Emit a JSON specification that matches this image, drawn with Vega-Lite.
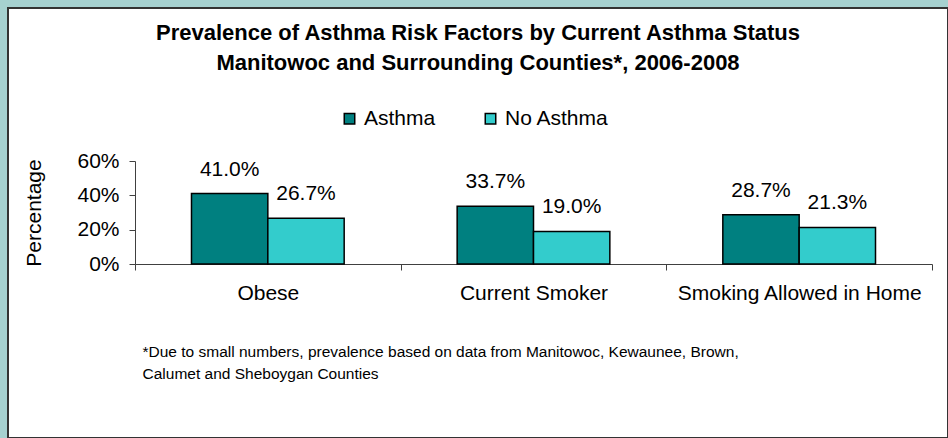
{
  "$schema": "https://vega.github.io/schema/vega-lite/v6.json",
  "width": 940,
  "height": 430,
  "autosize": {"type": "none"},
  "padding": {"left": 8, "top": 8, "right": 0, "bottom": 0},
  "background": "#A6D1D0",
  "config": {
    "view": {"fill": "white", "stroke": "#333333", "strokeWidth": 2},
    "font": "Liberation Sans"
  },
  "title": {
    "text": ["Prevalence of Asthma Risk Factors by Current Asthma Status", "Manitowoc and Surrounding Counties*, 2006-2008"],
    "anchor": "middle",
    "frame": "group",
    "offset": -67,
    "lineHeight": 30,
    "fontSize": 22,
    "fontWeight": "bold",
    "font": "Liberation Sans",
    "color": "black"
  },
  "data": {
    "values": [
      {"factor": "Obese", "status": "Asthma", "value": 0.41},
      {"factor": "Obese", "status": "No Asthma", "value": 0.267},
      {"factor": "Current Smoker", "status": "Asthma", "value": 0.337},
      {"factor": "Current Smoker", "status": "No Asthma", "value": 0.19},
      {"factor": "Smoking Allowed in Home", "status": "Asthma", "value": 0.287},
      {"factor": "Smoking Allowed in Home", "status": "No Asthma", "value": 0.213}
    ]
  },
  "encoding": {
    "x": {
      "field": "factor",
      "type": "nominal",
      "sort": ["Obese", "Current Smoker", "Smoking Allowed in Home"],
      "scale": {"range": [127, 924], "paddingInner": 0, "paddingOuter": 0},
      "axis": {
        "orient": "bottom",
        "offset": -174,
        "tickBand": "extent",
        "tickSize": 6,
        "tickColor": "#404040",
        "domainColor": "#404040",
        "labelPadding": 12,
        "labelFontSize": 21,
        "labelLimit": 0,
        "labelColor": "black",
        "labelAngle": 0,
        "title": ["*Due to small numbers, prevalence based on data from Manitowoc, Kewaunee, Brown,", " Calumet and Sheboygan Counties"],
        "titleFontSize": 15.5,
        "titleFontWeight": "normal",
        "titleColor": "black",
        "titleX": 134,
        "titleY": 80,
        "titleAlign": "left",
        "titleBaseline": "top",
        "titleLineHeight": 22
      }
    },
    "xOffset": {
      "field": "status",
      "type": "nominal",
      "sort": ["Asthma", "No Asthma"],
      "scale": {"paddingOuter": 0.74, "paddingInner": 0}
    },
    "y": {
      "field": "value",
      "type": "quantitative",
      "scale": {"domain": [0, 0.6], "range": [256, 153], "nice": false},
      "axis": {
        "values": [0, 0.2, 0.4, 0.6],
        "format": ".0%",
        "offset": -127,
        "grid": false,
        "tickSize": 6,
        "tickColor": "#404040",
        "domainColor": "#404040",
        "labelPadding": 10,
        "labelFontSize": 21,
        "labelColor": "black",
        "title": "Percentage",
        "titleFontSize": 21,
        "titleFontWeight": "normal",
        "titleColor": "black",
        "titlePadding": 32
      }
    }
  },
  "layer": [
    {
      "mark": {"type": "bar", "stroke": "black", "strokeWidth": 1.5},
      "encoding": {
        "color": {
          "field": "status",
          "type": "nominal",
          "scale": {"domain": ["Asthma", "No Asthma"], "range": ["#008080", "#33CCCC"]},
          "legend": {
            "orient": "none",
            "direction": "horizontal",
            "legendX": 331,
            "legendY": 100,
            "title": null,
            "symbolType": "square",
            "symbolSize": 110,
            "symbolStrokeColor": "black",
            "symbolStrokeWidth": 1.5,
            "labelFontSize": 21,
            "labelColor": "black",
            "labelOffset": 4,
            "columnPadding": 44,
            "padding": 0
          }
        }
      }
    },
    {
      "mark": {"type": "text", "baseline": "middle", "dy": -24, "fontSize": 21, "color": "black"},
      "encoding": {
        "text": {"field": "value", "type": "quantitative", "format": ".1%"}
      }
    }
  ]
}
